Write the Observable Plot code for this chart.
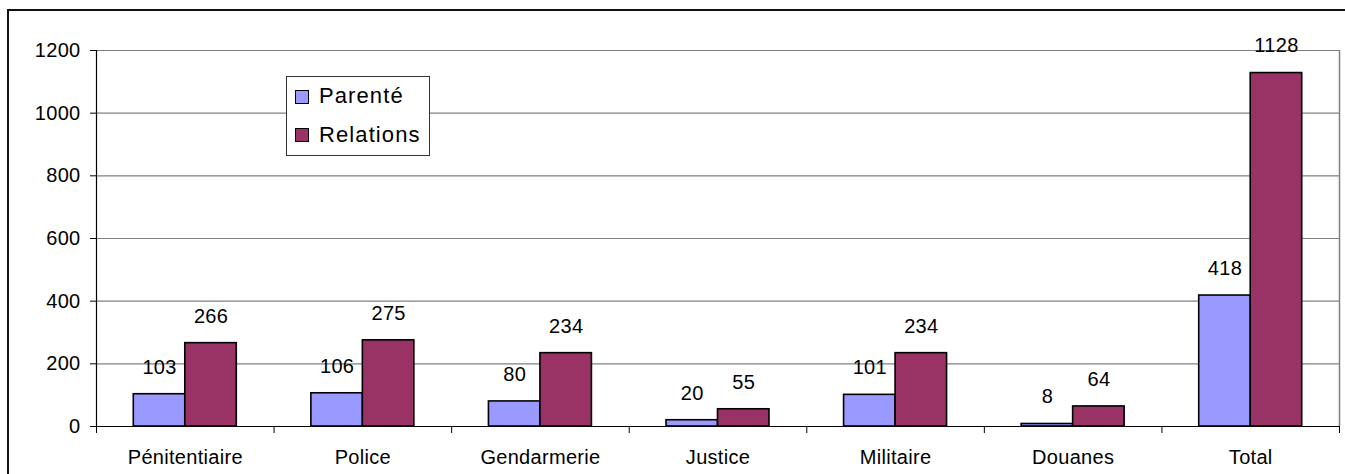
<!DOCTYPE html>
<html><head><meta charset="utf-8">
<script src="https://cdn.jsdelivr.net/npm/d3@7"></script>
<script src="https://cdn.jsdelivr.net/npm/@observablehq/plot@0.6"></script>
<style>
html,body{margin:0;padding:0;background:#fff;overflow:hidden;width:1345px;height:474px}
#wrap{position:relative;width:1345px;height:474px;overflow:hidden}
#chart{position:absolute;left:0;top:0}
#frame{position:absolute;left:7px;top:9px;width:1400px;height:600px;border:2px solid #111;box-sizing:border-box;pointer-events:none}
#legend{position:absolute;left:286px;top:76px;width:144px;height:80px;box-sizing:border-box;border:1px solid #333;background:#fff;font:22px "Liberation Sans",Arial,sans-serif;color:#000;letter-spacing:1.1px}
#legend .sw{position:absolute;width:14px;height:14px;box-sizing:border-box;border:1.6px solid #000}
#legend .lb{position:absolute;line-height:22px;white-space:nowrap}
</style></head>
<body><div id="wrap"><div id="chart"></div><div id="legend"></div><div id="frame"></div></div>
<script>
const categories = ["Pénitentiaire","Police","Gendarmerie","Justice","Militaire","Douanes","Total"];
const series = ["Parenté","Relations"];
const parente = [103,106,80,20,101,8,418];
const relations = [266,275,234,55,234,64,1128];
const yTicks = [0,200,400,600,800,1000,1200];
const colors = ["#9999ff","#993366"];

const seriesValues = [parente, relations];
const rows = [];
categories.forEach((cat, ci) => {
  series.forEach((s, si) => {
    rows.push({cat, ci, series: s, si, value: seriesValues[si][ci]});
  });
});

const left = d => d.ci + (d.si === 0 ? 0.21 : 0.5);
const right = d => d.ci + (d.si === 0 ? 0.5 : 0.79);
const mid = d => (left(d) + right(d)) / 2;

const chart = Plot.plot({
  width: 1345,
  height: 474,
  marginLeft: 96,
  marginRight: 6,
  marginTop: 50,
  marginBottom: 48,
  style: {fontFamily: "'Liberation Sans', Arial, sans-serif", fontSize: "20px", color: "#000", background: "none", letterSpacing: "0.3px"},
  x: {domain: [0, categories.length], axis: null},
  y: {domain: [0, 1200], axis: null},
  color: {domain: series, range: colors},
  marks: [
    Plot.ruleY(yTicks.slice(1), {stroke: "#808080", strokeWidth: 1.2}),
    Plot.ruleX([categories.length], {stroke: "#808080", strokeWidth: 1.5}),
    Plot.rectY(rows, {x1: left, x2: right, y1: 0, y2: "value", fill: "series", stroke: "#000", strokeWidth: 1.6}),
    Plot.text(rows, {x: mid, y: "value", text: d => String(d.value), dy: -27, fontSize: 20, fill: "#000"}),
    Plot.ruleY([0], {stroke: "#000", strokeWidth: 1.2}),
    Plot.ruleX([0], {stroke: "#000", strokeWidth: 1.2}),
    Plot.axisY(yTicks, {anchor: "left", tickSize: 6, tickPadding: 10, fontSize: 20, label: null, stroke: "#000", tickFormat: d => String(d)}),
    Plot.axisX(d3.range(categories.length + 1), {anchor: "bottom", tickSize: 7, tickFormat: () => "", label: null, stroke: "#000"}),
    Plot.axisX(categories.map((c, i) => i + 0.5), {anchor: "bottom", tickSize: 0, tickPadding: 23, fontSize: 20, label: null, tickFormat: d => categories[Math.floor(d)]})
  ]
});
document.getElementById("chart").appendChild(chart);

const legend = document.getElementById("legend");
series.forEach((s, i) => {
  const sw = document.createElement("div");
  sw.className = "sw";
  sw.style.left = "8px";
  sw.style.top = (13 + i * 38) + "px";
  sw.style.background = colors[i];
  legend.appendChild(sw);
  const lb = document.createElement("div");
  lb.className = "lb";
  lb.style.left = "32px";
  lb.style.top = (8 + i * 39) + "px";
  lb.textContent = s;
  legend.appendChild(lb);
});
</script>
</body></html>
